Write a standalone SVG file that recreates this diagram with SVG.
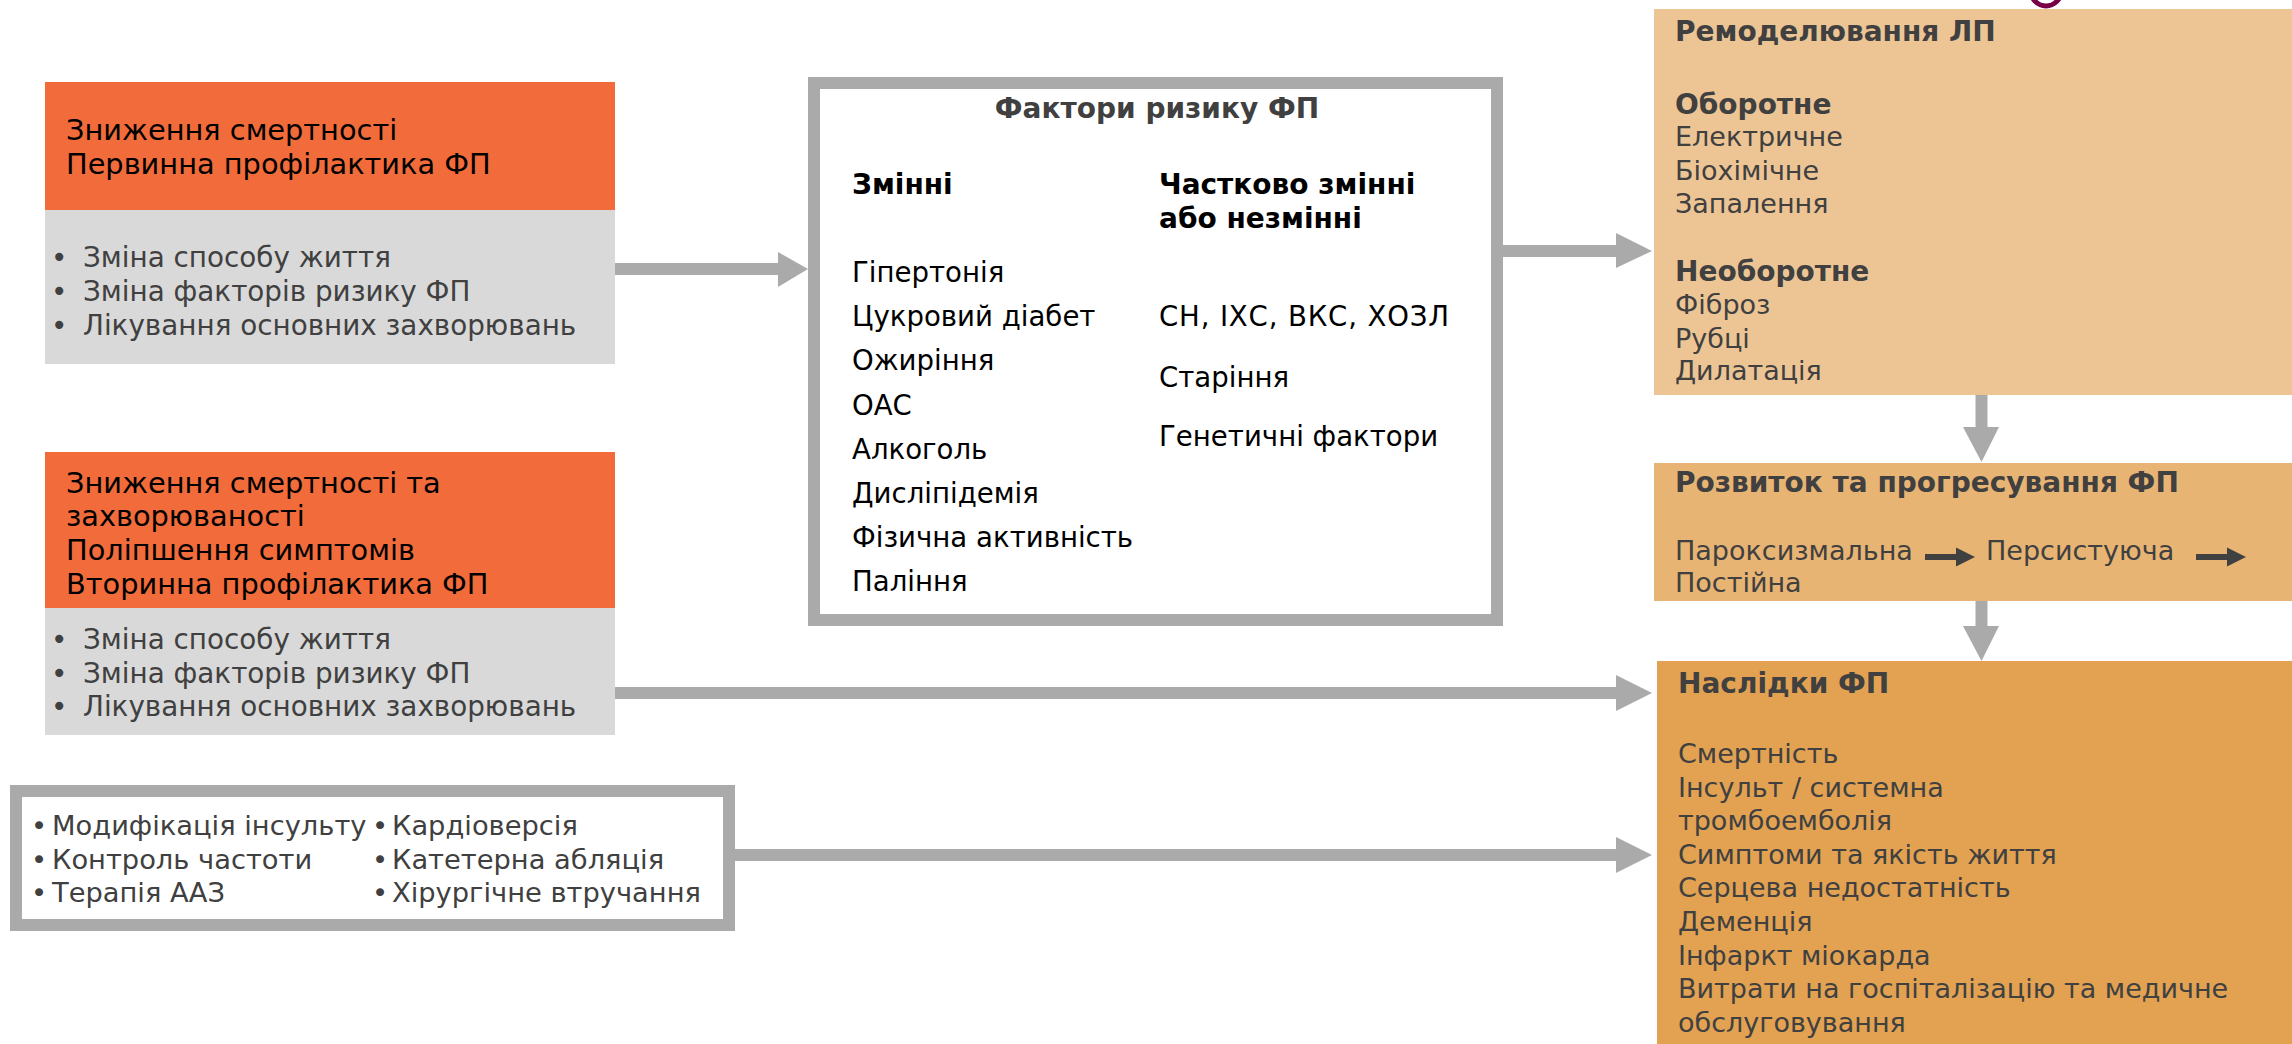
<svg xmlns="http://www.w3.org/2000/svg" width="2292" height="1044" viewBox="0 0 2292 1044">
<style>
text{font-family:"DejaVu Sans","Liberation Sans",sans-serif;font-size:27px;fill:#404040}
.k{fill:#000}
.b{font-weight:bold;font-size:28px}
.h{font-size:28.8px;fill:#000}
.g{font-size:27.8px}
.t{font-size:27.3px}
.r{font-size:27.6px}
.hdr{fill:#F26B3A}
.body{fill:#D9D9D9}
.frame{fill:#fff;stroke:#AAAAAA;stroke-width:12}
.conn{stroke:#AAAAAA;stroke-width:12;fill:none}
.head{fill:#AAAAAA}
</style>
<defs>
<marker id="sm" viewBox="0 0 10 10" refX="0" refY="5" markerWidth="3.2" markerHeight="3.2" orient="auto" markerUnits="strokeWidth"><path d="M0,0L10,5L0,10z" fill="#404040"/></marker>
</defs>
<rect x="0" y="0" width="2292" height="1044" fill="#fff"/>

<g id="connectors">
<line class="conn" x1="615" y1="269" x2="780" y2="269"/>
<polygon class="head" points="778,252 808,269 778,287"/>
<line class="conn" x1="1503" y1="251" x2="1618" y2="251"/>
<polygon class="head" points="1616,233 1652,251 1616,268"/>
<line class="conn" x1="615" y1="693" x2="1618" y2="693"/>
<polygon class="head" points="1616,675 1652,693 1616,711"/>
<line class="conn" x1="735" y1="855" x2="1618" y2="855"/>
<polygon class="head" points="1616,837 1652,855 1616,873"/>
<line class="conn" x1="1981.5" y1="395" x2="1981.5" y2="430"/>
<polygon class="head" points="1963,427 1999,427 1981.5,462"/>
<line class="conn" x1="1981.5" y1="601" x2="1981.5" y2="628"/>
<polygon class="head" points="1963,626 1999,626 1981.5,661"/>
</g>

<g id="node-primary">
<rect class="hdr" x="45" y="82" width="570" height="128"/>
<rect class="body" x="45" y="210" width="570" height="154"/>
<text class="h" x="66" y="140">Зниження смертності</text>
<text class="h" x="66" y="174">Первинна профілактика ФП</text>
<text class="g" x="51" y="267">•</text><text class="g" x="83" y="267">Зміна способу життя</text>
<text class="g" x="51" y="301">•</text><text class="g" x="83" y="301">Зміна факторів ризику ФП</text>
<text class="g" x="51" y="335">•</text><text class="g" x="83" y="335">Лікування основних захворювань</text>
</g>

<g id="node-secondary">
<rect class="hdr" x="45" y="452" width="570" height="156"/>
<rect class="body" x="45" y="608" width="570" height="127"/>
<text class="h" x="66" y="493">Зниження смертності та</text>
<text class="h" x="66" y="526">захворюваності</text>
<text class="h" x="66" y="560">Поліпшення симптомів</text>
<text class="h" x="66" y="594">Вторинна профілактика ФП</text>
<text class="g" x="51" y="649">•</text><text class="g" x="83" y="649">Зміна способу життя</text>
<text class="g" x="51" y="683">•</text><text class="g" x="83" y="683">Зміна факторів ризику ФП</text>
<text class="g" x="51" y="716">•</text><text class="g" x="83" y="716">Лікування основних захворювань</text>
</g>

<g id="node-therapy">
<rect class="frame" x="16" y="791" width="713" height="134"/>
<text class="t" x="31" y="835">•</text><text class="t" x="52" y="835">Модифікація інсульту</text>
<text class="t" x="31" y="869">•</text><text class="t" x="52" y="869">Контроль частоти</text>
<text class="t" x="31" y="902">•</text><text class="t" x="52" y="902">Терапія ААЗ</text>
<text class="t" x="372" y="835">•</text><text class="t" x="392" y="835">Кардіоверсія</text>
<text class="t" x="372" y="869">•</text><text class="t" x="392" y="869">Катетерна абляція</text>
<text class="t" x="372" y="902">•</text><text class="t" x="392" y="902">Хірургічне втручання</text>
</g>

<g id="node-risk">
<rect class="frame" x="814" y="83" width="683" height="537"/>
<text class="b" x="1157" y="118" text-anchor="middle">Фактори ризику ФП</text>
<text class="k b" x="852" y="194">Змінні</text>
<text class="k b" x="1159" y="194">Частково змінні</text>
<text class="k b" x="1159" y="228">або незмінні</text>
<text class="k r" x="852" y="282">Гіпертонія</text>
<text class="k r" x="852" y="326">Цукровий діабет</text>
<text class="k r" x="852" y="370">Ожиріння</text>
<text class="k r" x="852" y="415">ОАС</text>
<text class="k r" x="852" y="459">Алкоголь</text>
<text class="k r" x="852" y="503">Дисліпідемія</text>
<text class="k r" x="852" y="547">Фізична активність</text>
<text class="k r" x="852" y="591">Паління</text>
<text class="k r" x="1159" y="326" textLength="290" lengthAdjust="spacing">СН, ІХС, ВКС, ХОЗЛ</text>
<text class="k r" x="1159" y="387">Старіння</text>
<text class="k r" x="1159" y="446">Генетичні фактори</text>
</g>

<g id="node-remodeling">
<circle cx="2046" cy="-9" r="15" fill="none" stroke="#780047" stroke-width="5"/>
<rect x="1654" y="9" width="638" height="386" fill="#EDC595"/>
<text class="b" x="1675" y="41">Ремоделювання ЛП</text>
<text class="b" x="1675" y="114">Оборотне</text>
<text x="1675" y="146">Електричне</text>
<text x="1675" y="180">Біохімічне</text>
<text x="1675" y="213">Запалення</text>
<text class="b" x="1675" y="281">Необоротне</text>
<text x="1675" y="314">Фіброз</text>
<text x="1675" y="348">Рубці</text>
<text x="1675" y="380">Дилатація</text>
</g>

<g id="node-progression">
<rect x="1654" y="463" width="638" height="138" fill="#E8B474"/>
<text class="b" x="1675" y="492">Розвиток та прогресування ФП</text>
<text x="1675" y="560">Пароксизмальна</text>
<line x1="1925" y1="557" x2="1956" y2="557" stroke="#404040" stroke-width="6" marker-end="url(#sm)"/>
<text x="1986" y="560">Персистуюча</text>
<line x1="2196" y1="557" x2="2227" y2="557" stroke="#404040" stroke-width="6" marker-end="url(#sm)"/>
<text x="1675" y="592">Постійна</text>
</g>

<g id="node-outcomes">
<rect x="1657" y="661" width="635" height="383" fill="#E2A252"/>
<text class="b" x="1678" y="693">Наслідки ФП</text>
<text x="1678" y="763">Смертність</text>
<text x="1678" y="797">Інсульт / системна</text>
<text x="1678" y="830">тромбоемболія</text>
<text x="1678" y="864">Симптоми та якість життя</text>
<text x="1678" y="897">Серцева недостатність</text>
<text x="1678" y="931">Деменція</text>
<text x="1678" y="965">Інфаркт міокарда</text>
<text x="1678" y="998">Витрати на госпіталізацію та медичне</text>
<text x="1678" y="1032">обслуговування</text>
</g>
</svg>
